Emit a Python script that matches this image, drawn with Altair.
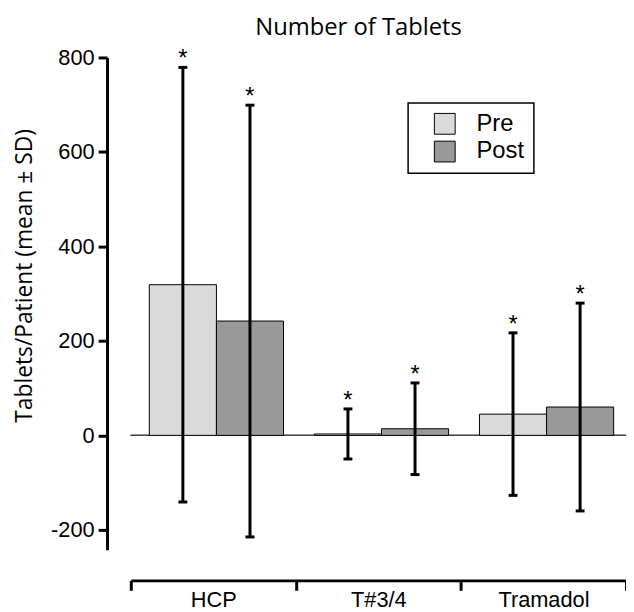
import altair as alt
import pandas as pd

drugs = ["HCP", "T#3/4", "Tramadol"]
periods = ["Pre", "Post"]
pre_mean = [319, 3, 45]
pre_sd = [460, 53, 172]
post_mean = [242, 14, 60]
post_sd = [457, 97, 220]
y_ticks = [-200, 0, 200, 400, 600, 800]

rows = []
for i, d in enumerate(drugs):
    for p, m, s in (("Pre", pre_mean[i], pre_sd[i]), ("Post", post_mean[i], post_sd[i])):
        rows.append({"drug": d, "period": p, "mean": m, "lo": m - s, "hi": m + s})
df = pd.DataFrame(rows)

yscale = alt.Scale(domain=[-242, 800], nice=False, zero=False)

X = alt.X("drug:N", sort=drugs, scale=alt.Scale(paddingInner=0, paddingOuter=0),
          axis=alt.Axis(title=None, orient="bottom", offset=31, tickSize=10, tickWidth=3,
                        domainWidth=3, domainColor="black", tickColor="black",
                        tickBand="extent", labelAngle=0, labelFont="Liberation Sans",
                        labelFontSize=22, labelColor="black", labelPadding=-1))
XO = alt.XOffset("period:N", sort=periods,
                 scale=alt.Scale(paddingInner=0, paddingOuter=0.23, align=0.6))

base = alt.Chart(df).encode(x=X, xOffset=XO)

zero = alt.Chart(df).mark_rule(color="#444444", strokeWidth=1).encode(y=alt.datum(0, scale=yscale))

bars = base.mark_bar(stroke="black", strokeWidth=1).encode(
    y=alt.Y("mean:Q", scale=yscale,
            axis=alt.Axis(values=y_ticks, offset=24, tickSize=9, tickWidth=3, domainWidth=3,
                          domainColor="black", tickColor="black", grid=False,
                          labelExpr="toString(datum.value)",
                          labelFont="Liberation Sans", labelFontSize=22, labelColor="black",
                          labelPadding=4,
                          title="Tablets/Patient (mean ± SD)", titleFont="Open Sans",
                          titleFontSize=23, titleFontWeight="normal", titleColor="black",
                          titleX=-83, titleY=220, titleAngle=-90, titleAlign="center",
                          titleBaseline="middle")),
    color=alt.Color("period:N", sort=periods,
                    scale=alt.Scale(domain=periods, range=["#dadada", "#999999"]),
                    legend=alt.Legend(title=None, orient="none", legendX=280, legendY=46,
                                      padding=9, strokeColor="black", fillColor="white",
                                      symbolType="square", symbolSize=441,
                                      symbolStrokeColor="black", symbolStrokeWidth=1,
                                      symbolOffset=16, labelOffset=20,
                                      labelFont="Liberation Sans", labelFontSize=24,
                                      labelColor="black", rowPadding=2)),
)

err = base.mark_rule(strokeWidth=3, color="black").encode(
    y=alt.Y("lo:Q", scale=yscale), y2="hi:Q")
cap_hi = base.mark_tick(orient="horizontal", size=9, thickness=3, color="black", opacity=1).encode(
    y=alt.Y("hi:Q", scale=yscale))
cap_lo = base.mark_tick(orient="horizontal", size=9, thickness=3, color="black", opacity=1).encode(
    y=alt.Y("lo:Q", scale=yscale))
stars = base.mark_text(text="*", font="Liberation Sans", fontSize=24, color="black",
                       baseline="alphabetic", dy=-1).encode(y=alt.Y("hi:Q", scale=yscale))

chart = alt.layer(zero, bars, err, cap_hi, cap_lo, stars).properties(
    width=500, height=497,
    title=alt.TitleParams("Number of Tablets", font="Open Sans", fontSize=24,
                          fontWeight="normal", color="black", anchor="middle", dx=-20,
                          offset=7),
    autosize=alt.AutoSizeParams(type="none"),
    padding={"left": 124, "top": 47, "right": 0, "bottom": 64},
).configure_view(stroke=None).configure_legend(strokeWidth=1.5)

chart.save("out.html", embed_options={"renderer": "svg", "actions": False})
